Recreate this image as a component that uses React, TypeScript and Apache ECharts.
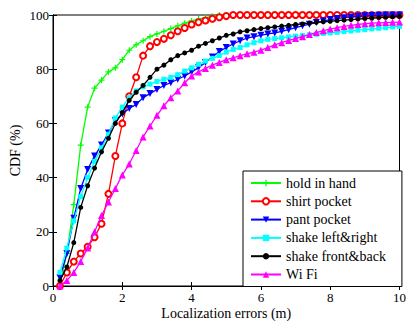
import React, { useEffect, useRef } from "react";
import * as echarts from "echarts";

const xs = [0.2,0.4,0.6,0.8,1.0,1.2,1.4,1.6,1.8,2.0,2.2,2.4,2.6,2.8,3.0,3.2,3.4,3.6,3.8,4.0,4.2,4.4,4.6,4.8,5.0,5.2,5.4,5.6,5.8,6.0,6.2,6.4,6.6,6.8,7.0,7.2,7.4,7.6,7.8,8.0,8.2,8.4,8.6,8.8,9.0,9.2,9.4,9.6,9.8,10.0];

const holdInHand = [1,12,30,52,66,73,76,79,80.5,83.5,87,89,90.5,92,93,94,95,96,97,97.8,98.5,99,99.5,100,100,100,100,100,100,100,100,100,100,100,100,100,100,100,100,100,100,100,100,100,100,100,100,100,100,100];
const shirtPocket = [0,5,9,12,14.5,18,23,34,48,60,70,77,85,88.5,90,91.2,92.5,94,95.2,96.5,97.3,98,98.6,99.2,99.6,100,100,100,100,100,100,100,100,100,100,100,100,100,100,100,100,100,100,100,100,100,100,100,100,100];
const pantPocket = [3,12,25,36,43,48,52,56.5,61,63.5,65.5,67,69.5,71,72.5,74,75,76.3,77.5,79,80.5,82.5,84.5,86.5,88,89.3,90.5,91.5,92,92.5,93,93.4,94,94.6,95.3,96,96.6,97.2,97.8,98.3,98.7,99,99.3,99.5,99.7,99.8,99.9,100,100,100];
const shakeLeftRight = [5,14,24,33,40,46,51,56,62,66,69.5,72,73.5,74.5,75.5,76.3,77,78,79.3,80.5,81.8,83,84,85,86.3,87.3,88,89,89.8,90.5,91,91.3,91.6,91.9,92.2,92.4,92.7,92.9,93.2,93.4,93.6,93.9,94.1,94.4,94.6,94.9,95.1,95.3,95.6,95.8];
const shakeFrontBack = [2,7,16,29,37,43.5,49.5,54.5,60,64,68.5,71.5,74,77,80,81.5,83.5,85,86,87,88.5,89.5,90.5,91.5,92.5,93,93.8,94.2,94.6,95,95.3,95.6,95.9,96.2,96.5,96.7,97,97.3,97.5,97.7,97.9,98.1,98.3,98.5,98.7,98.8,99,99.1,99.3,99.5];
const wifi = [0,2,5,9,14,20,26,31,36,41,45,50,55,59,63,66.5,69.5,72,75,77.5,79,80.3,81.5,82.5,83.5,84.2,85,85.7,86.3,87,88,89,89.8,90.6,91.3,92,92.8,93.5,94.2,94.8,95.3,95.8,96.2,96.5,96.8,97,97.1,97.2,97.3,97.4];

const seriesNames = ["hold in hand", "shirt pocket", "pant pocket", "shake left&right", "shake front&back", "Wi Fi"];
const seriesColors = ["#00ff00", "#ff0000", "#0000ff", "#00ffff", "#000000", "#ff00ff"];
const xTicks = [0, 2, 4, 6, 8, 10];
const yTicks = [0, 20, 40, 60, 80, 100];

const PLUS = "path://M4,0h2v4h4v2h-4v4h-2v-4h-4v-2h4z";
const DOWN_TRI = "path://M0,0L10,0L5,9Z";

export default function App() {
  const ref = useRef<HTMLDivElement>(null);
  useEffect(() => {
    const chart = echarts.init(ref.current!, null, { renderer: "svg" });
    const font = "'Liberation Serif', 'Times New Roman', serif";
    const values = [holdInHand, shirtPocket, pantPocket, shakeLeftRight, shakeFrontBack, wifi];
    const symbols = [PLUS, "emptyCircle", DOWN_TRI, "rect", "circle", "triangle"];
    const sizes = [6, 6, 7, 5, 5, 7];
    const series = values.map((vals, i) => ({
      name: seriesNames[i],
      type: "line",
      data: xs.map((x, j) => [x, vals[j]]),
      symbol: symbols[i],
      symbolSize: sizes[i],
      showSymbol: true,
      color: seriesColors[i],
      lineStyle: { width: 1.3, color: seriesColors[i] },
      itemStyle: symbols[i] === "emptyCircle"
        ? { color: seriesColors[i], borderColor: seriesColors[i], borderWidth: 1.3 }
        : { color: seriesColors[i] },
      z: 2 + i,
    }));
    const tickStyle = { show: true, inside: true, length: 4, lineStyle: { color: "#000", width: 1 } };
    chart.setOption({
      animation: false,
      backgroundColor: "#ffffff",
      textStyle: { fontFamily: font },
      grid: { left: 51, top: 15, width: 352, height: 277, show: true, borderColor: "#000", borderWidth: 1, containLabel: false },
      legend: {
        orient: "vertical",
        left: 243,
        top: 171,
        data: seriesNames,
        backgroundColor: "#ffffff",
        borderColor: "#000000",
        borderWidth: 1,
        padding: [5, 16, 5, 7],
        itemGap: 4.3,
        itemWidth: 30,
        itemHeight: 8,
        textStyle: { fontFamily: font, fontSize: 14, color: "#000", lineHeight: 14 },
      },
      xAxis: [
        {
          type: "value", min: 0, max: 10, interval: 2,
          name: "Localization errors (m)", nameLocation: "middle", nameGap: 20, nameMoveOverlap: false,
          nameTextStyle: { fontFamily: font, fontSize: 14, color: "#000" },
          axisLine: { show: true, lineStyle: { color: "#000" } },
          axisTick: tickStyle,
          axisLabel: { fontFamily: font, fontSize: 13, color: "#000", margin: 5, formatter: (v: number) => (xTicks.includes(v) ? String(v) : "") },
          splitLine: { show: false },
        },
        {
          type: "value", min: 0, max: 10, interval: 2, position: "top",
          axisLine: { show: true, lineStyle: { color: "#000" } },
          axisTick: tickStyle, axisLabel: { show: false }, splitLine: { show: false },
        },
      ],
      yAxis: [
        {
          type: "value", min: 0, max: 100, interval: 20,
          name: "CDF (%)", nameLocation: "middle", nameGap: 31, nameMoveOverlap: false,
          nameTextStyle: { fontFamily: font, fontSize: 14, color: "#000" },
          axisLine: { show: true, lineStyle: { color: "#000" } },
          axisTick: tickStyle,
          axisLabel: { fontFamily: font, fontSize: 13, color: "#000", margin: 4, formatter: (v: number) => (yTicks.includes(v) ? String(v) : "") },
          splitLine: { show: false },
        },
        {
          type: "value", min: 0, max: 100, interval: 20, position: "right",
          axisLine: { show: true, lineStyle: { color: "#000" } },
          axisTick: tickStyle, axisLabel: { show: false }, splitLine: { show: false },
        },
      ],
      series,
    });
    return () => chart.dispose();
  }, []);
  return <div ref={ref} style={{ width: 409, height: 325, position: "absolute", left: 0, top: 0 }} />;
}
